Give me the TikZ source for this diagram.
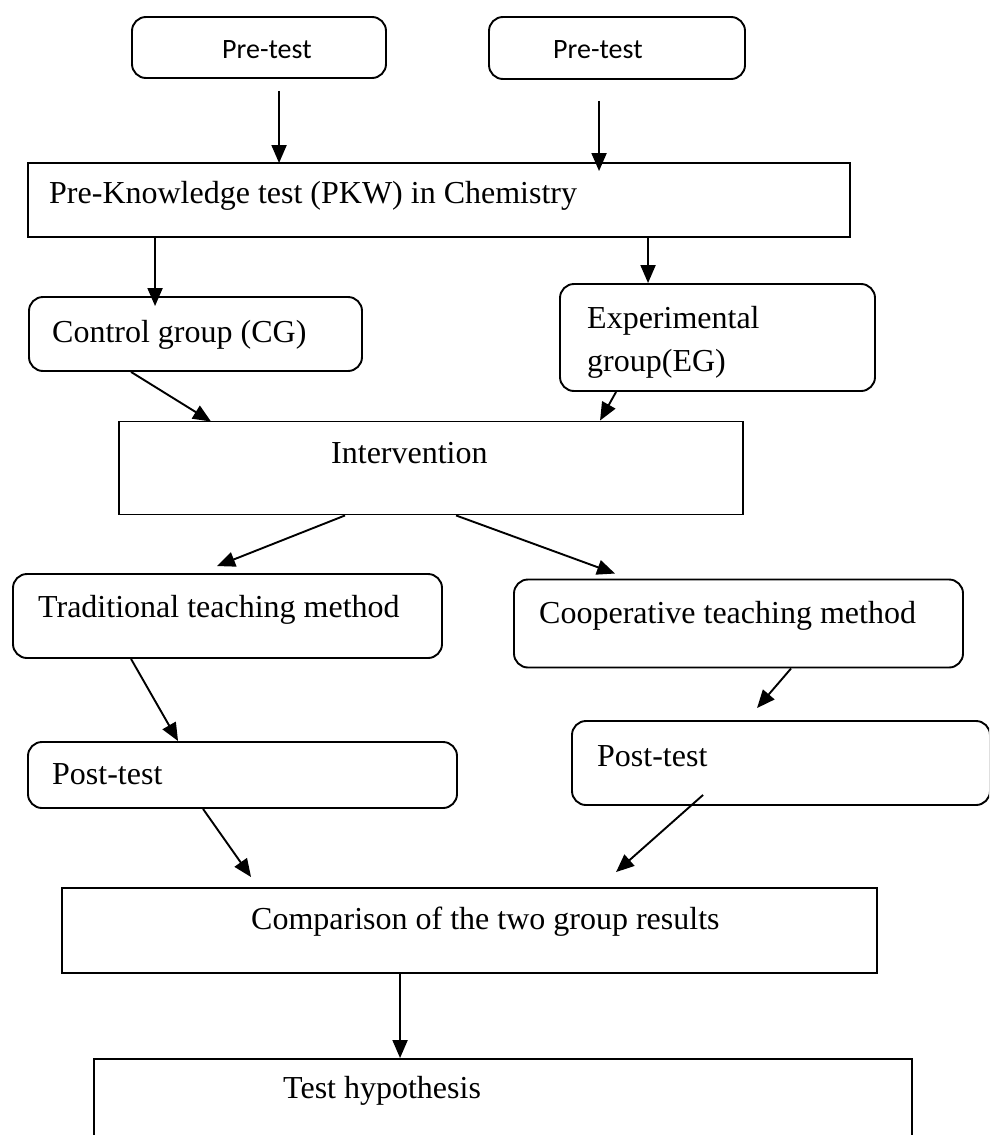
\documentclass[tikz,border=0pt]{standalone}
\usepackage{fontspec}
\setmainfont{Liberation Serif}
\newfontfamily\calfont{Carlito}
\usetikzlibrary{arrows.meta,calc}
\begin{document}
\begin{tikzpicture}[x=1pt,y=-1pt,
  box/.style={draw=black,line width=1.9pt,inner sep=0pt},
  rbox/.style={box,rounded corners=14pt},
  txt/.style={anchor=base west,inner sep=0pt,font=\fontsize{32}{38}\selectfont},
  stxt/.style={anchor=base west,inner sep=0pt,font=\calfont\fontsize{28}{34}\selectfont},
  arr/.style={line width=1.9pt,-{Triangle[length=18pt,width=15pt]}}]
\clip (0,0) rectangle (989,1135);
\fill[white] (0,0) rectangle (989,1135);
% boxes
\node[rbox,minimum width=254pt,minimum height=61pt] (pre1) at (259,47.5) {};
\node[rbox,minimum width=256pt,minimum height=62pt] (pre2) at (617,48) {};
\node[box,minimum width=822pt,minimum height=74pt] (pkw) at (439,200) {};
\node[rbox,minimum width=333pt,minimum height=74pt] (ctrl) at (195.5,334) {};
\node[rbox,minimum width=315pt,minimum height=107pt] (exp) at (717.5,337.5) {};
\node[box,minimum width=624pt,minimum height=93pt] (interv) at (431,468) {};
\node[rbox,minimum width=429pt,minimum height=84pt] (trad) at (227.5,616) {};
\node[rbox,minimum width=449pt,minimum height=88pt] (coop) at (738.5,623.5) {};
\node[rbox,minimum width=429pt,minimum height=66pt] (post1) at (242.5,775) {};
\node[rbox,minimum width=418pt,minimum height=84pt] (post2) at (781,763) {};
\node[box,minimum width=815pt,minimum height=85pt] (comp) at (469.5,930.5) {};
\node[box,minimum width=818pt,minimum height=101pt] (hyp) at (503,1109.5) {};
% texts
\node[stxt] (t1) at (222,58) {Pre-test};
\node[stxt] (t2) at (553,58) {Pre-test};
\node[txt] (t3) at (49,203) {Pre-Knowledge test (PKW) in Chemistry};
\node[txt] (t4) at (52,342) {Control group (CG)};
\node[txt] (t5) at (587,328) {Experimental};
\node[txt] (t6) at (587,371) {group(EG)};
\node[txt] (t7) at (331,463) {Intervention};
\node[txt] (t8) at (38,617) {Traditional teaching method};
\node[txt] (t9) at (539,623) {Cooperative teaching method};
\node[txt] (t10) at (52,784) {Post-test};
\node[txt] (t11) at (597,766) {Post-test};
\node[txt] (t12) at (251,929) {Comparison of the two group results};
\node[txt] (t13) at (283,1098) {Test hypothesis};
% free ends
\coordinate (s1) at ($(pre1.south west)+(148,12)$);
\coordinate (s2) at ($(pre2.south west)+(111,21)$);
% connectors
\draw[arr] (s1) -- ($(pkw.north west)+(252,1)$);
\draw[arr] (s2) -- ($(pkw.north west)+(572,9)$);
\draw[arr] ($(pkw.south west)+(128,0)$) -- ($(ctrl.north west)+(127,10)$);
\draw[arr] ($(pkw.south west)+(621,0)$) -- ($(exp.north west)+(89,0)$);
\draw[arr] ($(ctrl.south west)+(103,0)$) -- ($(interv.north west)+(93,1)$);
\draw[arr] ($(exp.south west)+(57,0)$) -- ($(interv.north west)+(482,0)$);
\draw[arr] ($(interv.south west)+(227,0)$) -- ($(trad.north west)+(205,-7)$);
\draw[arr] ($(interv.south west)+(338,0)$) -- ($(coop.north west)+(102,-5)$);
\draw[arr] ($(trad.south west)+(119,0)$) -- ($(post1.north west)+(151,0)$);
\draw[arr] ($(coop.south west)+(278,0)$) -- ($(post2.north west)+(186,-12)$);
\draw[arr] ($(post1.south west)+(176,0)$) -- ($(comp.north west)+(190,-10)$);
\draw[arr] ($(post2.south west)+(132,-11)$) -- ($(comp.north west)+(555,-15)$);
\draw[arr] ($(comp.south west)+(339,0)$) -- ($(hyp.north west)+(307,0)$);
\end{tikzpicture}
\end{document}
